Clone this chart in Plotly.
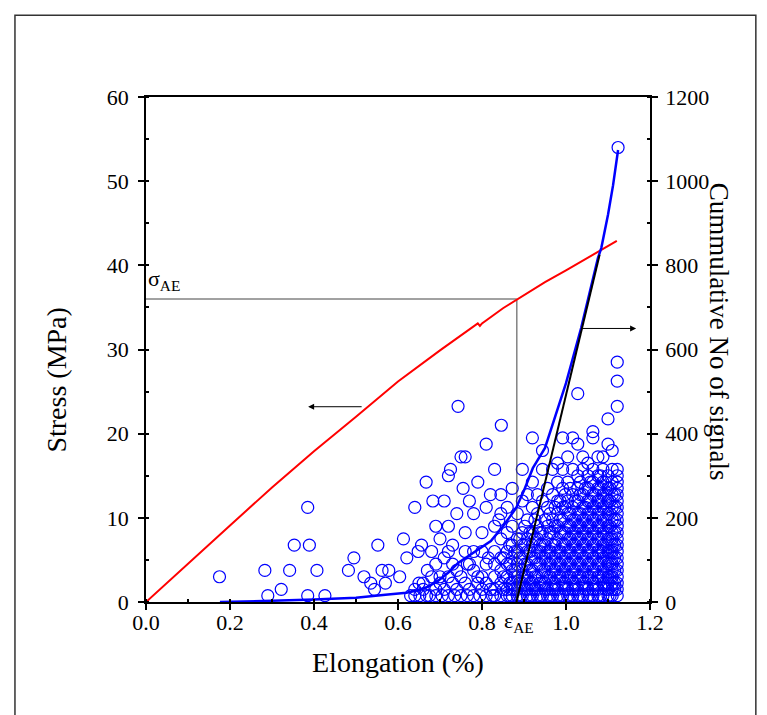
import plotly.graph_objects as go

# stress-strain curve (left axis, MPa)
stress_x = [0.0, 0.1, 0.2, 0.3, 0.4, 0.5, 0.6, 0.7, 0.78, 0.79, 0.795, 0.80, 0.85, 0.883, 0.95, 1.0, 1.052, 1.121]
stress_y = [0.0, 4.6, 9.1, 13.6, 17.9, 22.0, 26.2, 29.9, 32.8, 33.1, 32.8, 33.1, 34.9, 35.9, 38.0, 39.4, 40.9, 42.9]

# cumulative number of AE signals (right axis)
cum_x = [0.176, 0.25, 0.3, 0.4, 0.5, 0.57, 0.62, 0.648, 0.67, 0.695, 0.72, 0.743, 0.78, 0.821, 0.85,
         0.881, 0.90, 0.921, 0.95, 0.981, 1.0, 1.036, 1.06, 1.076, 1.084, 1.10, 1.112, 1.124]
cum_y = [0, 1, 3, 6, 10, 17, 22, 28, 36, 50, 70, 93, 118, 145, 180,
         223, 265, 318, 366, 461, 520, 651, 750, 817, 841, 920, 990, 1074]
cum_end = (1.124, 1080)

# tangent line to the cumulative curve
tan_x = [0.882, 1.08]
tan_y = [0, 825]

# onset point
eps_ae = 0.883
sigma_ae = 36.0

# individual signals (left axis units), isolated ones
sparse_pts = [
    (0.175, 3.0), (0.283, 3.75), (0.290, 0.75), (0.322, 1.5), (0.342, 3.75), (0.353, 6.75),
    (0.385, 11.25), (0.389, 6.75), (0.385, 0.75), (0.407, 3.75), (0.426, 0.75), (0.482, 3.75),
    (0.495, 5.25), (0.519, 3.0), (0.535, 2.25), (0.544, 1.5), (0.552, 6.75), (0.562, 3.75),
    (0.578, 3.75), (0.570, 2.25), (0.604, 3.0), (0.613, 7.5), (0.621, 5.25), (0.640, 11.25),
    (0.667, 14.25), (0.683, 12.0), (0.650, 2.25), (0.660, 2.25), (0.648, 6.0), (0.656, 6.75),
    (0.640, 0.75), (0.652, 0.75), (0.668, 0.75),
    (0.69, 9.0), (0.70, 7.5), (0.70, 3.0), (0.71, 5.25), (0.71, 12.0), (0.72, 15.0),
    (0.725, 15.75), (0.72, 9.0), (0.73, 6.75), (0.73, 2.25), (0.74, 10.5), (0.743, 23.25),
    (0.75, 17.25), (0.76, 17.25), (0.755, 13.5), (0.76, 8.25), (0.765, 4.5), (0.77, 12.0),
    (0.78, 6.0), (0.78, 10.5), (0.79, 3.0), (0.79, 14.25), (0.80, 8.25), (0.81, 18.75),
    (0.81, 11.25), (0.815, 5.25), (0.82, 12.75), (0.83, 15.75), (0.846, 21.0), (0.84, 9.75),
    (0.63, 0.75), (0.675, 0.75), (0.69, 0.75), (0.705, 0.75), (0.72, 0.75), (0.735, 0.75),
    (0.75, 0.75), (0.765, 0.75), (0.78, 0.75), (0.795, 0.75), (0.81, 0.75), (0.825, 0.75),
    (0.64, 1.5), (0.66, 1.5), (0.69, 1.5), (0.71, 1.5), (0.74, 1.5), (0.77, 1.5), (0.80, 1.5), (0.82, 1.5),
    (0.70, 2.25), (0.76, 2.25), (0.79, 2.25), (0.81, 2.25),
    (0.68, 3.0), (0.72, 3.0), (0.75, 3.0), (0.80, 3.0),
    (0.67, 3.75), (0.74, 3.75), (0.78, 3.75),
    (0.69, 4.5), (0.73, 4.5), (0.77, 4.5), (0.81, 4.5),
    (0.68, 6.0), (0.72, 6.0), (0.76, 6.0), (0.80, 6.0),
]

# dense block of signals near failure: column positions and levels in each column
dense_x = [0.83, 0.845, 0.86, 0.872, 0.884, 0.896, 0.908, 0.92, 0.932, 0.944, 0.956, 0.968,
           0.98, 0.992, 1.004, 1.016, 1.028, 1.04, 1.052, 1.064, 1.076, 1.088, 1.1, 1.11, 1.122]
dense_levels = [
    [0.75, 1.5, 3.0, 4.5, 6.0, 9.0],
    [0.75, 2.25, 3.75, 5.25, 7.5, 10.5, 12.75],
    [0.75, 1.5, 3.0, 4.5, 6.0, 8.25, 11.25],
    [0.75, 1.5, 2.25, 3.75, 5.25, 6.75, 9.0, 13.5],
    [0.75, 1.5, 3.0, 4.5, 6.0, 7.5, 10.5],
    [0.75, 2.25, 3.0, 3.75, 5.25, 6.75, 8.25, 12.0, 15.75],
    [0.75, 1.5, 3.0, 4.5, 6.0, 7.5, 9.75, 12.75],
    [0.75, 1.5, 2.25, 3.75, 5.25, 6.75, 8.25, 11.25, 14.25, 19.5],
    [0.75, 1.5, 3.0, 4.5, 6.0, 7.5, 9.0, 10.5, 12.75],
    [0.75, 2.25, 3.0, 3.75, 5.25, 6.75, 8.25, 12.0, 15.75, 18.0],
    [0.75, 1.5, 3.0, 4.5, 6.0, 7.5, 9.0, 11.25, 13.5],
    [0.75, 1.5, 2.25, 3.75, 5.25, 6.75, 8.25, 9.75, 12.75, 15.75],
    [0.75, 1.5, 3.0, 4.5, 6.0, 7.5, 9.0, 10.5, 12.0, 14.25, 16.5],
    [0.75, 2.25, 3.0, 3.75, 5.25, 6.75, 8.25, 9.75, 11.25, 13.5, 15.75, 19.5],
    [0.75, 1.5, 3.0, 4.5, 6.0, 7.5, 9.0, 10.5, 12.0, 14.25, 17.25],
    [0.75, 1.5, 2.25, 3.75, 5.25, 6.75, 8.25, 9.75, 11.25, 12.75, 15.75, 19.5],
    [0.75, 1.5, 3.0, 4.5, 6.0, 7.5, 9.0, 10.5, 12.0, 13.5, 15.0, 18.75, 24.75],
    [0.75, 2.25, 3.0, 3.75, 5.25, 6.75, 8.25, 9.75, 11.25, 12.75, 15.75, 17.25],
    [0.75, 1.5, 3.0, 4.5, 6.0, 7.5, 9.0, 10.5, 12.0, 13.5, 15.0, 16.5],
    [0.75, 1.5, 2.25, 3.75, 5.25, 6.75, 8.25, 9.75, 11.25, 12.75, 14.25, 15.75, 19.5, 20.25],
    [0.75, 1.5, 3.0, 4.5, 6.0, 7.5, 9.0, 10.5, 12.0, 13.5, 15.0, 17.25],
    [0.75, 2.25, 3.0, 3.75, 5.25, 6.0, 6.75, 8.25, 9.75, 11.25, 12.75, 14.25, 15.75, 17.25],
    [0.75, 1.5, 2.25, 3.0, 4.5, 6.0, 7.5, 9.0, 10.5, 12.0, 13.5, 15.0, 18.75, 21.75],
    [0.75, 1.5, 2.25, 3.0, 3.75, 4.5, 5.25, 6.0, 6.75, 7.5, 8.25, 9.75, 11.25, 12.75, 14.25, 15.75, 18.0],
    [0.75, 1.5, 2.25, 3.0, 3.75, 4.5, 5.25, 6.0, 6.75, 7.5, 8.25, 9.0, 9.75, 10.5, 11.25, 12.0,
     12.75, 13.5, 14.25, 15.0, 15.75, 23.25, 26.25, 28.5],
]

# extra signals between the dense columns
fill_x = [0.851, 0.866, 0.878, 0.890, 0.902, 0.914, 0.926, 0.938, 0.950, 0.962, 0.974, 0.986,
          0.998, 1.010, 1.022, 1.034, 1.046, 1.058, 1.070, 1.082, 1.094, 1.105, 1.116]
fill_levels = [
    [1.5, 3.0, 5.25],
    [0.75, 2.25, 4.5, 6.75],
    [1.5, 3.0, 3.75, 6.0],
    [0.75, 2.25, 5.25, 7.5],
    [1.5, 3.0, 4.5, 6.75, 9.0],
    [0.75, 2.25, 3.75, 6.0, 8.25],
    [1.5, 3.0, 5.25, 7.5, 9.75],
    [0.75, 2.25, 4.5, 6.0, 6.75, 8.25],
    [1.5, 2.25, 3.75, 5.25, 6.75, 9.75],
    [0.75, 3.0, 4.5, 6.0, 8.25, 10.5],
    [1.5, 2.25, 3.75, 5.25, 6.75, 9.0, 11.25],
    [0.75, 3.0, 4.5, 6.0, 8.25, 9.75, 12.0],
    [1.5, 2.25, 3.75, 5.25, 6.75, 8.25, 11.25, 12.75],
    [0.75, 3.0, 4.5, 6.0, 7.5, 9.0, 10.5, 13.5],
    [1.5, 2.25, 3.75, 5.25, 6.75, 8.25, 9.75, 12.0],
    [0.75, 3.0, 4.5, 6.0, 7.5, 9.0, 10.5, 12.75, 14.25],
    [1.5, 2.25, 3.75, 5.25, 6.75, 8.25, 9.75, 11.25, 13.5],
    [0.75, 3.0, 4.5, 6.0, 7.5, 9.0, 10.5, 12.0, 14.25],
    [1.5, 2.25, 3.75, 5.25, 6.75, 8.25, 9.75, 11.25, 12.75],
    [0.75, 3.0, 4.5, 6.0, 7.5, 9.0, 10.5, 12.0, 13.5, 15.0],
    [1.5, 2.25, 3.75, 5.25, 6.75, 8.25, 9.75, 11.25, 12.75, 14.25],
    [0.75, 3.0, 4.5, 6.0, 7.5, 9.0, 10.5, 12.0, 13.5],
    [1.5, 2.25, 3.75, 5.25, 6.75, 8.25, 9.75, 11.25, 12.75],
]

FONT = "Liberation Serif"
BLUE = "#0000ff"

sig_x = [p[0] for p in sparse_pts]
sig_y = [p[1] for p in sparse_pts]
for cols_x, cols_lv in ((dense_x, dense_levels), (fill_x, fill_levels)):
    for cx, levels in zip(cols_x, cols_lv):
        for lv in levels:
            sig_x.append(cx)
            sig_y.append(lv)

fig = go.Figure()

fig.add_trace(go.Scatter(
    x=sig_x, y=sig_y, mode="markers",
    marker=dict(symbol="circle-open", size=12, color=BLUE, line=dict(width=1.2, color=BLUE)),
))

# sigma_AE / eps_AE guide lines
fig.add_trace(go.Scatter(
    x=[0, eps_ae, eps_ae], y=[sigma_ae, sigma_ae, 0], mode="lines",
    line=dict(color="#444444", width=1),
))

fig.add_trace(go.Scatter(
    x=stress_x, y=stress_y, mode="lines", line=dict(color="#ff0000", width=2),
))

fig.add_trace(go.Scatter(
    x=cum_x, y=cum_y, mode="lines", line=dict(color=BLUE, width=2.5), yaxis="y2",
))
fig.add_trace(go.Scatter(
    x=[cum_end[0]], y=[cum_end[1]], mode="markers", yaxis="y2",
    marker=dict(symbol="circle-open", size=12, color=BLUE, line=dict(width=1.2, color=BLUE)),
))
fig.add_trace(go.Scatter(
    x=tan_x, y=tan_y, mode="lines", line=dict(color="black", width=2), yaxis="y2",
))

tickfont = dict(family=FONT, size=22, color="black")
axis_common = dict(
    showline=True, linecolor="black", linewidth=1.5, showgrid=False, zeroline=False,
    ticks="outside", ticklen=6, tickwidth=1.5, tickcolor="black", tickfont=tickfont,
)

fig.update_layout(
    width=767, height=715,
    margin=dict(l=138, r=125, t=89, b=121),
    paper_bgcolor="white", plot_bgcolor="white",
    showlegend=False,
    xaxis=dict(
        range=[0, 1.2], dtick=0.2, tickformat=".1f", mirror=True, ticklabelstandoff=-6,
        minor=dict(dtick=0.1, ticks="inside", ticklen=3, tickcolor="black"),
        **axis_common,
    ),
    yaxis=dict(
        range=[0, 60], dtick=10, ticklabelstandoff=5,
        minor=dict(dtick=5, ticks="inside", ticklen=3, tickcolor="black"),
        **axis_common,
    ),
    yaxis2=dict(
        range=[0, 1200], dtick=200, overlaying="y", side="right", anchor="x", ticklabelstandoff=3,
        minor=dict(dtick=100, ticks="inside", ticklen=3, tickcolor="black"),
        **axis_common,
    ),
)

title_font = dict(family=FONT, size=28, color="black")
fig.add_annotation(x=-0.177, y=0.44, xref="paper", yref="paper", text="Stress (MPa)",
                   xanchor="center", yanchor="middle",
                   textangle=-90, showarrow=False, font=title_font)
fig.add_annotation(x=1.137, y=0.535, xref="paper", yref="paper", text="Cummulative No of signals",
                   xanchor="center", yanchor="middle",
                   textangle=90, showarrow=False, font=dict(family=FONT, size=27, color="black"))
fig.add_annotation(x=0.5, y=-0.12, xref="paper", yref="paper", text="Elongation (%)",
                   xanchor="center", yanchor="middle", showarrow=False, font=title_font)

label_font = dict(family=FONT, size=22, color="black")
fig.add_annotation(x=0.0, y=36.3, xref="x", yref="y", text="σ<sub>AE</sub>",
                   xanchor="left", yanchor="bottom", showarrow=False, font=label_font)
fig.add_annotation(x=eps_ae - 0.035, y=-0.04, xref="x", yref="paper", text="ε<sub>AE</sub>",
                   xanchor="left", yanchor="middle", showarrow=False, font=label_font)

# arrows pointing to the relevant axes
fig.add_annotation(x=0.386, y=23.2, ax=0.517, ay=23.2, xref="x", yref="y", axref="x", ayref="y",
                   text="", showarrow=True, arrowhead=2, arrowsize=1.2, arrowwidth=1, arrowcolor="black")
fig.add_annotation(x=1.167, y=32.5, ax=1.033, ay=32.5, xref="x", yref="y", axref="x", ayref="y",
                   text="", showarrow=True, arrowhead=2, arrowsize=1.2, arrowwidth=1, arrowcolor="black")

# outer frame of the figure
fig.add_shape(type="rect", xref="paper", yref="paper", x0=-0.26, x1=1.21, y0=-0.3, y1=1.162,
              line=dict(color="#333333", width=1.5))

fig.write_html("out.html")
